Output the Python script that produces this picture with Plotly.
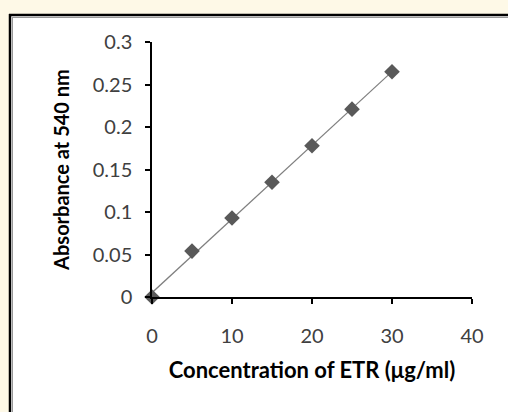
import numpy as np
import plotly.graph_objects as go

# Data
concentration = [0, 5, 10, 15, 20, 25, 30]
absorbance = [0.0, 0.054, 0.093, 0.135, 0.178, 0.221, 0.265]
x_ticks = [0, 10, 20, 30, 40]
y_ticks = [0, 0.05, 0.1, 0.15, 0.2, 0.25, 0.3]
x_title = "Concentration of ETR (μg/ml)"
y_title = "Absorbance at 540 nm"

# Linear trend line (least squares through the data)
slope, intercept = np.polyfit(concentration, absorbance, 1)
trend_x = [min(concentration), max(concentration)]
trend_y = [slope * v + intercept for v in trend_x]

W, H = 508, 412
L, R, T, B = 152, 36, 42, 115
pw, ph = W - L - R, H - T - B


def px(xp):
    return (xp - L) / pw


def py(yp):
    return (H - B - yp) / ph


fig = go.Figure()
fig.add_trace(go.Scatter(x=trend_x, y=trend_y, mode="lines",
                         line=dict(color="#7f7f7f", width=1.2),
                         hoverinfo="skip", showlegend=False))
fig.add_trace(go.Scatter(x=concentration, y=absorbance, mode="markers",
                         marker=dict(symbol="diamond", size=12, color="#595959",
                                     line=dict(width=0)),
                         cliponaxis=False, showlegend=False))

shapes = [
    # white panel
    dict(type="rect", xref="paper", yref="paper", x0=px(10), x1=px(530),
         y0=py(430), y1=py(14), fillcolor="white", line=dict(width=0), layer="below"),
    # outer black border (top & left)
    dict(type="line", xref="paper", yref="paper", x0=px(9), x1=px(530),
         y0=py(15), y1=py(15), line=dict(color="black", width=2.5), layer="below"),
    dict(type="line", xref="paper", yref="paper", x0=px(10), x1=px(10),
         y0=py(14), y1=py(430), line=dict(color="black", width=2.5), layer="below"),
    # inner grey border
    dict(type="line", xref="paper", yref="paper", x0=px(12), x1=px(530),
         y0=py(17.5), y1=py(17.5), line=dict(color="#999999", width=1), layer="below"),
    dict(type="line", xref="paper", yref="paper", x0=px(12.5), x1=px(12.5),
         y0=py(17), y1=py(430), line=dict(color="#999999", width=1), layer="below"),
]

font_fam = "Lato, 'Open Sans', sans-serif"
fig.update_layout(
    width=W, height=H,
    margin=dict(l=L, r=R, t=T, b=B),
    paper_bgcolor="#fef9e7",
    plot_bgcolor="white",
    shapes=shapes,
    font=dict(family=font_fam, color="#404040"),
    xaxis=dict(range=[0, 40], tickvals=x_ticks, showgrid=False, zeroline=False,
               showline=True, linecolor="black", linewidth=1.5,
               ticks="outside", ticklen=5, tickcolor="black", tickwidth=1.5,
               tickfont=dict(size=20, color="#404040"), ticklabelstandoff=15,
               title=dict(text="<b>" + x_title + "</b>", standoff=17,
                          font=dict(size=22, color="black"))),
    yaxis=dict(range=[0, 0.3], tickvals=y_ticks, showgrid=False, zeroline=False,
               showline=True, linecolor="black", linewidth=1.5,
               ticks="outside", ticklen=5, tickcolor="black", tickwidth=1.5,
               tickfont=dict(size=20, color="#404040"), ticklabelstandoff=9,
               title=dict(text="<b>" + y_title + "</b>", standoff=18,
                          font=dict(size=20, color="black"))),
)

fig.write_html("out.html")
